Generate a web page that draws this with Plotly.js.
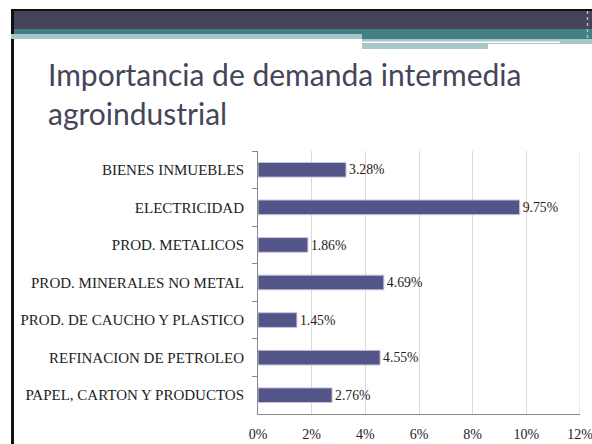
<!DOCTYPE html>
<html>
<head>
<meta charset="utf-8">
<script src="https://cdn.plot.ly/plotly-3.0.1.min.js"></script>
<style>html,body{margin:0;padding:0;background:#fff;}#chart{width:592px;height:444px;}</style>
</head>
<body>
<div id="chart"></div>
<script>
const categories = [
  "BIENES INMUEBLES",
  "ELECTRICIDAD",
  "PROD. METALICOS",
  "PROD. MINERALES NO METAL",
  "PROD. DE CAUCHO Y PLASTICO",
  "REFINACION DE PETROLEO",
  "PAPEL, CARTON Y PRODUCTOS"
];
const values = [3.28, 9.75, 1.86, 4.69, 1.45, 4.55, 2.76];
const valueLabels = ["3.28%", "9.75%", "1.86%", "4.69%", "1.45%", "4.55%", "2.76%"];
const xTickVals = [0, 2, 4, 6, 8, 10, 12];
const xTickText = ["0%", "2%", "4%", "6%", "8%", "10%", "12%"];
const titleText = "Importancia de demanda intermedia<br>agroindustrial";

const W = 592, H = 444;
const M = {l: 258, r: 12, t: 151, b: 30};
const PW = W - M.l - M.r, PH = H - M.t - M.b;
function px(x) { return (x - M.l) / PW; }
function py(y) { return (H - M.b - y) / PH; }
function rect(x0, y0, x1, y1, color) {
  return {type: 'rect', xref: 'paper', yref: 'paper', x0: px(x0), x1: px(x1), y0: py(y1), y1: py(y0),
    fillcolor: color, line: {width: 0}, layer: 'above'};
}

const shapes = [
  rect(11, 9, 592, 11, '#111111'),
  rect(11, 9, 14, 444, '#111111'),
  rect(14, 11, 592, 29, '#434457'),
  rect(14, 29, 592, 34, '#437f84'),
  rect(11, 34, 362, 39, '#a7c6c8'),
  rect(362, 34, 592, 39, '#437f84'),
  rect(362, 39, 592, 44, '#a7c6c8'),
  rect(362, 41.5, 560, 43, '#ffffff'),
  rect(362, 44, 488, 49, '#a7c6c8'),
  {type: 'line', xref: 'paper', yref: 'paper', x0: px(587.5), x1: px(587.5), y0: py(44), y1: py(11),
    line: {color: '#b8bcc6', width: 1.5, dash: 'dot'}, layer: 'above'},
  // gridline at the axis end (Plotly omits the one on the plot edge)
  {type: 'line', xref: 'x', yref: 'paper', x0: xTickVals[xTickVals.length - 1], x1: xTickVals[xTickVals.length - 1],
    y0: 0, y1: 1, line: {color: '#d9d9d9', width: 1}, layer: 'below'}
];

const serif = '"Liberation Serif", "DejaVu Serif", serif';

const trace = {
  type: 'bar',
  orientation: 'h',
  y: categories,
  x: values,
  text: valueLabels,
  textposition: 'outside',
  textfont: {family: serif, size: 15, color: '#222222'},
  cliponaxis: false,
  width: 0.39,
  marker: {color: '#535488', line: {color: '#c4c5e0', width: 1}},
  hoverinfo: 'none'
};

const layout = {
  width: W, height: H,
  margin: M,
  paper_bgcolor: '#ffffff',
  plot_bgcolor: '#ffffff',
  showlegend: false,
  title: {
    text: titleText,
    xref: 'container', yref: 'container',
    x: 48 / W, xanchor: 'left',
    y: 1 - 86 / H, yanchor: 'top',
    font: {family: 'Lato, sans-serif', size: 30, color: '#454559'}
  },
  xaxis: {
    range: [0, 12],
    tickvals: xTickVals,
    ticktext: xTickText,
    showgrid: true, gridcolor: '#d9d9d9', gridwidth: 1,
    zeroline: false,
    showline: true, linecolor: '#888888', linewidth: 1,
    ticks: '', ticklabelstandoff: 7,
    ticklabeloverflow: 'allow',
    tickfont: {family: serif, size: 14, color: '#222222'},
    fixedrange: true
  },
  yaxis: {
    type: 'category',
    autorange: 'reversed',
    showgrid: false,
    zeroline: false,
    showline: true, linecolor: '#888888', linewidth: 1,
    ticks: 'outside', tickson: 'boundaries', ticklen: 5, tickcolor: '#888888',
    ticklabelstandoff: 10,
    tickfont: {family: serif, size: 15, color: '#222222'},
    fixedrange: true
  },
  shapes: shapes
};

Plotly.newPlot('chart', [trace], layout, {displayModeBar: false, staticPlot: true});
</script>
</body>
</html>
